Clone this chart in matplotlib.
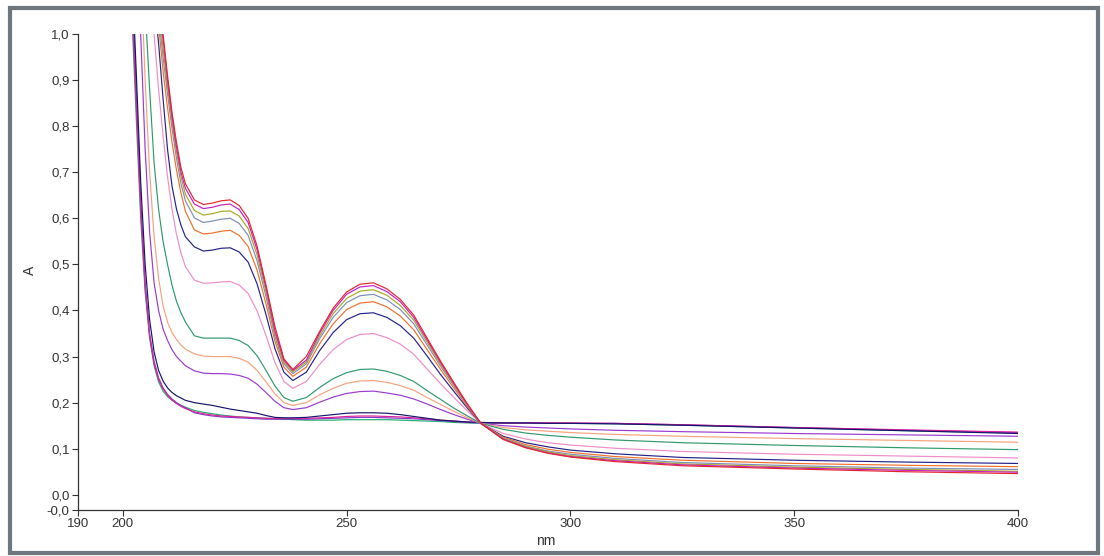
import matplotlib
matplotlib.use("Agg")
import matplotlib.pyplot as plt
from matplotlib.patches import Rectangle

# wavelength grid (nm)
wl = [202, 203, 204, 205, 206, 207, 208, 209, 210, 211, 212, 213, 214,
      216, 218, 220, 222, 224, 226, 228, 230, 232, 234, 236, 238,
      241, 244, 247, 250, 253, 256, 259, 262, 265, 268, 271, 274, 277,
      280, 285, 290, 295, 300, 310, 325, 350, 375, 400]

# flat spectra (no bands)
flat_green = [1.05, 0.82, 0.60, 0.44, 0.34, 0.28, 0.245, 0.225, 0.213, 0.205, 0.199, 0.194, 0.190,
              0.183, 0.179, 0.176, 0.173, 0.171, 0.169, 0.168, 0.167, 0.166, 0.165, 0.164, 0.163,
              0.162, 0.162, 0.162, 0.163, 0.163, 0.163, 0.163, 0.162, 0.161, 0.160, 0.159, 0.157, 0.156,
              0.155, 0.155, 0.155, 0.155, 0.155, 0.154, 0.151, 0.145, 0.139, 0.134]
flat_magenta = [1.08, 0.85, 0.62, 0.45, 0.345, 0.285, 0.25, 0.23, 0.216, 0.206, 0.198, 0.192, 0.187,
                0.180, 0.176, 0.173, 0.171, 0.170, 0.169, 0.168, 0.167, 0.166, 0.166, 0.166, 0.166,
                0.166, 0.167, 0.168, 0.170, 0.171, 0.171, 0.170, 0.169, 0.167, 0.165, 0.162, 0.160, 0.158,
                0.157, 0.156, 0.156, 0.156, 0.156, 0.155, 0.152, 0.146, 0.141, 0.136]
flat_purple = [1.12, 0.88, 0.64, 0.46, 0.35, 0.29, 0.254, 0.232, 0.218, 0.208, 0.200, 0.194, 0.189,
               0.178, 0.174, 0.171, 0.169, 0.168, 0.167, 0.166, 0.165, 0.164, 0.164, 0.164, 0.164,
               0.164, 0.165, 0.166, 0.167, 0.168, 0.168, 0.167, 0.166, 0.165, 0.163, 0.161, 0.159, 0.157,
               0.156, 0.156, 0.156, 0.156, 0.155, 0.155, 0.152, 0.146, 0.140, 0.135]
flat_navy = [1.15, 0.92, 0.68, 0.50, 0.38, 0.31, 0.27, 0.247, 0.232, 0.222, 0.215, 0.210, 0.205,
             0.200, 0.197, 0.194, 0.190, 0.186, 0.183, 0.180, 0.177, 0.172, 0.168, 0.167, 0.167,
             0.168, 0.171, 0.174, 0.177, 0.178, 0.178, 0.177, 0.174, 0.170, 0.166, 0.162, 0.160, 0.158,
             0.157, 0.156, 0.156, 0.155, 0.155, 0.154, 0.151, 0.145, 0.139, 0.133]

# spectra with bands at ~224 and ~255 nm
s_purple = [1.35, 1.2, 1.0, 0.75, 0.57, 0.46, 0.40, 0.36, 0.335, 0.315, 0.30, 0.29, 0.28,
            0.269, 0.264, 0.263, 0.263, 0.262, 0.259, 0.253, 0.240, 0.222, 0.203, 0.189, 0.185,
            0.189, 0.201, 0.212, 0.220, 0.224, 0.225, 0.221, 0.216, 0.208, 0.197, 0.185, 0.174, 0.164,
            0.155, 0.150, 0.147, 0.145, 0.143, 0.140, 0.137, 0.133, 0.130, 0.127]
s_peach = [1.35, 1.25, 1.15, 0.90, 0.70, 0.56, 0.47, 0.41, 0.375, 0.352, 0.337, 0.325, 0.316,
           0.306, 0.301, 0.300, 0.300, 0.300, 0.296, 0.288, 0.270, 0.245, 0.219, 0.200, 0.194,
           0.200, 0.217, 0.231, 0.242, 0.247, 0.248, 0.244, 0.237, 0.227, 0.211, 0.196, 0.181, 0.167,
           0.155, 0.146, 0.141, 0.138, 0.135, 0.131, 0.127, 0.122, 0.118, 0.114]
s_green = [1.3, 1.25, 1.2, 1.06, 0.88, 0.72, 0.62, 0.55, 0.50, 0.455, 0.42, 0.395, 0.375,
           0.345, 0.340, 0.340, 0.340, 0.340, 0.335, 0.324, 0.302, 0.270, 0.236, 0.211, 0.203,
           0.211, 0.233, 0.252, 0.265, 0.272, 0.273, 0.268, 0.259, 0.246, 0.226, 0.207, 0.188, 0.171,
           0.155, 0.142, 0.134, 0.129, 0.125, 0.119, 0.113, 0.107, 0.102, 0.098]
s_pink = [1.35, 1.3, 1.25, 1.18, 1.12, 1.0, 0.88, 0.78, 0.69, 0.62, 0.565, 0.525, 0.495,
          0.466, 0.459, 0.460, 0.462, 0.463, 0.455, 0.437, 0.399, 0.346, 0.287, 0.246, 0.231,
          0.246, 0.283, 0.315, 0.337, 0.348, 0.350, 0.341, 0.327, 0.305, 0.273, 0.241, 0.211, 0.182,
          0.155, 0.133, 0.121, 0.113, 0.108, 0.101, 0.094, 0.088, 0.084, 0.080]
s_navy = [1.4, 1.35, 1.3, 1.22, 1.15, 1.08, 0.98, 0.86, 0.75, 0.67, 0.62, 0.585, 0.56,
          0.538, 0.529, 0.531, 0.535, 0.536, 0.527, 0.505, 0.458, 0.391, 0.317, 0.266, 0.248,
          0.266, 0.313, 0.352, 0.380, 0.393, 0.395, 0.385, 0.367, 0.340, 0.301, 0.261, 0.224, 0.188,
          0.155, 0.127, 0.113, 0.104, 0.097, 0.089, 0.081, 0.075, 0.071, 0.068]
s_orange = [1.45, 1.4, 1.34, 1.27, 1.18, 1.1, 1.02, 0.92, 0.84, 0.765, 0.705, 0.655, 0.615,
            0.575, 0.566, 0.568, 0.572, 0.574, 0.563, 0.539, 0.488, 0.414, 0.333, 0.277, 0.257,
            0.277, 0.328, 0.371, 0.402, 0.416, 0.419, 0.408, 0.388, 0.358, 0.315, 0.272, 0.231, 0.191,
            0.155, 0.125, 0.109, 0.099, 0.092, 0.083, 0.075, 0.068, 0.064, 0.061]
s_violet = [1.48, 1.42, 1.37, 1.3, 1.21, 1.12, 1.04, 0.95, 0.87, 0.795, 0.73, 0.675, 0.638,
            0.601, 0.591, 0.594, 0.598, 0.600, 0.589, 0.563, 0.508, 0.430, 0.343, 0.284, 0.263,
            0.284, 0.339, 0.385, 0.417, 0.432, 0.435, 0.423, 0.402, 0.371, 0.325, 0.279, 0.236, 0.194,
            0.155, 0.123, 0.106, 0.095, 0.088, 0.079, 0.070, 0.063, 0.058, 0.055]
s_olive = [1.5, 1.45, 1.4, 1.33, 1.24, 1.15, 1.06, 0.97, 0.885, 0.81, 0.745, 0.69, 0.652,
           0.617, 0.607, 0.610, 0.615, 0.616, 0.605, 0.578, 0.521, 0.440, 0.350, 0.288, 0.267,
           0.288, 0.345, 0.393, 0.426, 0.442, 0.445, 0.433, 0.411, 0.379, 0.331, 0.283, 0.239, 0.195,
           0.155, 0.122, 0.105, 0.093, 0.085, 0.076, 0.067, 0.060, 0.055, 0.051]
s_magenta = [1.55, 1.48, 1.42, 1.36, 1.27, 1.17, 1.08, 0.99, 0.90, 0.82, 0.755, 0.70, 0.665,
             0.631, 0.621, 0.624, 0.629, 0.631, 0.619, 0.591, 0.532, 0.449, 0.356, 0.292, 0.270,
             0.292, 0.351, 0.400, 0.435, 0.451, 0.454, 0.441, 0.419, 0.385, 0.336, 0.287, 0.241, 0.196,
             0.155, 0.121, 0.103, 0.091, 0.083, 0.074, 0.065, 0.058, 0.053, 0.049]
s_red = [1.6, 1.5, 1.45, 1.4, 1.3, 1.2, 1.1, 1.0, 0.91, 0.83, 0.765, 0.71, 0.675,
         0.640, 0.630, 0.633, 0.638, 0.640, 0.628, 0.600, 0.540, 0.455, 0.365, 0.295, 0.272,
         0.300, 0.355, 0.405, 0.440, 0.457, 0.460, 0.447, 0.424, 0.390, 0.340, 0.290, 0.243, 0.197,
         0.155, 0.120, 0.102, 0.090, 0.082, 0.072, 0.063, 0.056, 0.050, 0.046]

series = [
    (flat_green, "#1fae6e"),
    (flat_purple, "#7a3cc8"),
    (flat_magenta, "#e0209a"),
    (flat_navy, "#14146e"),
    (s_purple, "#9a3ad0"),
    (s_peach, "#f5a27e"),
    (s_green, "#2f9a6c"),
    (s_pink, "#f08cc8"),
    (s_navy, "#22228c"),
    (s_orange, "#f0702a"),
    (s_violet, "#7a8fb8"),
    (s_olive, "#a8a820"),
    (s_magenta, "#c81ec8"),
    (s_red, "#e3262c"),
]

xticks = [190, 200, 250, 300, 350, 400]
ymin = -0.033
yticks = [ymin, 0.0, 0.1, 0.2, 0.3, 0.4, 0.5, 0.6, 0.7, 0.8, 0.9, 1.0]
ylabels = ["-0,0", "0,0", "0,1", "0,2", "0,3", "0,4", "0,5", "0,6", "0,7", "0,8", "0,9", "1,0"]

plt.rcParams['font.family'] = ['Liberation Sans', 'DejaVu Sans']

fig = plt.figure(figsize=(11.04, 5.56), dpi=100)
ax = fig.add_axes([78 / 1104, 1 - 510 / 556, 940 / 1104, 476 / 556])

for ys, c in series:
    ax.plot(wl, ys, color=c, lw=0.85)

ax.set_xlim(190, 400)
ax.set_ylim(ymin, 1.0)
ax.set_xticks(xticks)
ax.set_xticklabels([str(t) for t in xticks])
ax.set_yticks(yticks)
ax.set_yticklabels(ylabels)
ax.tick_params(labelsize=9.5, colors="#333333", length=4, width=0.8, pad=2)
for s in ["top", "right"]:
    ax.spines[s].set_visible(False)
for s in ["left", "bottom"]:
    ax.spines[s].set_color("#333333")
    ax.spines[s].set_linewidth(0.9)

fig.text(546 / 1104, 1 - 541 / 556, "nm", ha="center", va="center", fontsize=10, color="#333333")
fig.text(30 / 1104, 1 - 270 / 556, "A", ha="center", va="center", rotation=90, fontsize=10, color="#333333")

# window frame
fig.patches.append(Rectangle((10 / 1104, 3 / 556), 1088 / 1104, 545 / 556, transform=fig.transFigure,
                             fill=False, edgecolor="#6e767e", linewidth=3))

fig.savefig("out.png", dpi=100)
